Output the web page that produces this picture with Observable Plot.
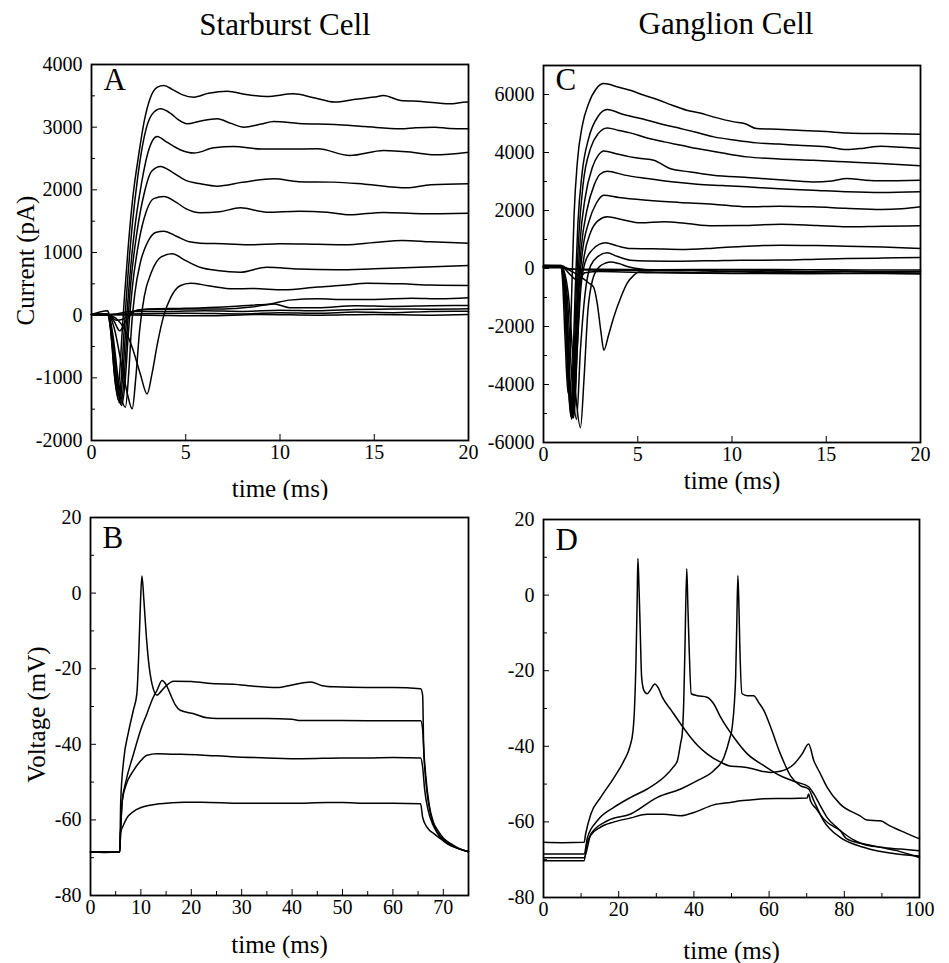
<!DOCTYPE html>
<html><head><meta charset="utf-8">
<script src="https://cdn.jsdelivr.net/npm/d3@7"></script>
<script src="https://cdn.jsdelivr.net/npm/@observablehq/plot@0.6"></script>
<style>
body{margin:0;background:#fff;}
#wrap{position:relative;width:949px;height:963px;background:#fff;font-family:"Liberation Serif","Times New Roman",serif;overflow:hidden;}
.title{position:absolute;font-size:31px;color:#000;white-space:nowrap;transform:translateX(-50%);line-height:1;}
.panel{position:absolute;}
</style></head><body>
<div id="wrap">
<div class="title" style="left:285px;top:9px">Starburst Cell</div>
<div class="title" style="left:726px;top:8px">Ganglion Cell</div>
<div class="panel" id="pA" style="left:0px;top:50px"></div>
<div class="panel" id="pC" style="left:480px;top:50px"></div>
<div class="panel" id="pB" style="left:0px;top:500px"></div>
<div class="panel" id="pD" style="left:480px;top:500px"></div>
</div>
<script>
// ---------- Panel A: starburst cell, voltage-clamp currents (t ms, pA) ----------
const A1 = [[0,10],[0.8,10],[0.9,0],[1.1,-500],[1.25,-1050],[1.38,-1250],[1.5,-900],[1.62,-300],[1.75,300],[1.95,1100],[2.2,1900],[2.5,2550],[2.8,3100],[3.1,3450],[3.5,3640],[3.84,3665],[4.3,3600],[4.8,3520],[5.43,3479],[6.2,3540],[7.2,3575],[8.2,3520],[9.3,3490],[10.7,3532],[11.8,3470],[12.9,3400],[14,3445],[15,3480],[15.5,3505],[16.4,3426],[17.5,3410],[19,3373],[19.9,3400],[20,3400]];
const A2 = [[0,10],[0.85,10],[1.0,-200],[1.2,-900],[1.42,-1350],[1.58,-1000],[1.72,-300],[1.9,500],[2.15,1400],[2.45,2200],[2.8,2850],[3.2,3200],[3.66,3293],[4.2,3220],[4.6,3120],[5.07,3054],[5.8,3100],[6.67,3133],[7.4,3060],[8.08,3000],[9.0,3050],[9.67,3091],[11,3060],[12.9,3043],[14.5,3010],[16.4,2974],[17.2,2990],[18.2,3000],[19,2980],[20,2974]];
const A3 = [[0,10],[0.85,10],[1.05,-300],[1.25,-950],[1.48,-1400],[1.65,-1000],[1.8,-300],[2.0,500],[2.3,1400],[2.65,2100],[3.0,2600],[3.48,2852],[4.0,2760],[4.7,2640],[5.43,2586],[6.5,2670],[7.55,2692],[9,2650],[10.5,2650],[12,2655],[13.7,2548],[15.5,2628],[17,2600],[18.2,2559],[20,2601]];
const A4 = [[0,10],[0.9,10],[1.1,-350],[1.35,-1050],[1.55,-1420],[1.72,-1050],[1.88,-300],[2.08,500],[2.4,1300],[2.8,1950],[3.2,2300],[3.66,2373],[4.3,2280],[5.0,2150],[5.78,2096],[6.67,2059],[8.0,2120],[9.67,2176],[11,2130],[12.86,2123],[14.5,2090],[16.7,2032],[18,2080],[20,2096]];
const A5 = [[0,10],[0.9,10],[1.12,-400],[1.38,-1100],[1.6,-1440],[1.8,-1000],[1.95,-300],[2.15,400],[2.5,1150],[2.9,1650],[3.3,1860],[3.84,1894],[4.5,1800],[5.0,1700],[5.78,1633],[6.8,1650],[7.9,1713],[9.3,1644],[11,1660],[12.5,1644],[13.7,1601],[15.5,1640],[17.5,1620],[20,1628]];
const A6 = [[0,10],[0.9,10],[1.15,-350],[1.45,-1100],[1.8,-1468],[1.98,-900],[2.12,-200],[2.3,350],[2.6,850],[3.0,1180],[3.4,1320],[3.84,1341],[4.5,1260],[5.2,1170],[5.78,1149],[7,1140],[8.5,1123],[10,1140],[12,1130],[13.5,1123],[15,1160],[16.5,1192],[18,1170],[20,1149]];
const A7 = [[0,10],[0.9,10],[1.2,-200],[1.6,-800],[1.9,-1250],[2.16,-1495],[2.35,-1000],[2.55,-250],[2.8,300],[3.2,700],[3.7,930],[4.28,979],[5.0,870],[5.8,760],[6.67,713],[7.9,686],[9.3,766],[11,735],[13,723],[15,740],[17,760],[20,793]];
const A8 = [[0,10],[0.85,70],[0.95,10],[1.3,-50],[1.8,-250],[2.2,-550],[2.6,-950],[2.95,-1256],[3.2,-950],[3.5,-450],[3.84,0],[4.2,280],[4.7,470],[5.25,511],[6.2,470],[7.55,420],[8.5,425],[10.2,404],[12,450],[13.5,480],[14.6,511],[16.5,500],[18,480],[20,473]];
const A9 = [[0,10],[0.9,10],[1.2,-100],[1.5,-250],[1.8,-100],[2.4,80],[3,100],[5,110],[7,130],[8.5,160],[9.5,180],[10.5,240],[12,260],[13.5,250],[15,250],[17,270],[18.5,260],[20,277]];
const A10 = [[0,10],[0.9,10],[1.3,-80],[1.7,-60],[2.2,60],[3,90],[5,100],[7,100],[8.5,130],[9.7,180],[10.5,120],[12,120],[14,150],[16,140],[18,150],[20,154]];
const A11 = [[0,10],[0.9,10],[1.5,30],[2,60],[4,60],[6,70],[8,60],[10,80],[12,70],[14,90],[16,100],[18,95],[20,101]];
const A12 = [[0,10],[0.9,10],[2,20],[5,30],[8,20],[10,40],[12,30],[14,50],[16,40],[18,60],[20,64]];
const A13 = [[0,10],[1,5],[3,0],[6,-10],[9,10],[12,0],[15,10],[18,0],[20,10]];

// ---------- Panel C: ganglion cell, voltage-clamp currents (t ms, pA) ----------
const C1 = [[0,80],[0.9,80],[1.0,-300],[1.15,-2500],[1.3,-4300],[1.42,-2500],[1.52,-300],[1.62,1800],[1.8,3700],[2.05,4900],[2.4,5700],[2.8,6200],[3.2,6377],[3.9,6270],[4.6,6147],[5.3,5980],[6.03,5825],[6.8,5640],[7.6,5458],[8.3,5360],[9.0,5228],[10.1,5056],[10.7,4990],[11.3,4826],[12.4,4800],[13.5,4768],[15,4720],[16.1,4676],[17.9,4653],[20,4630]];
const C2 = [[0,70],[0.95,70],[1.1,-800],[1.3,-3800],[1.45,-5100],[1.55,-3500],[1.68,-800],[1.82,1500],[2.05,3300],[2.4,4500],[2.9,5250],[3.38,5481],[4.2,5320],[5.5,5113],[6.4,4960],[7.27,4826],[8.2,4680],[9.04,4539],[10.2,4420],[11.3,4332],[12.5,4290],[13.5,4251],[15,4200],[16.1,4102],[17,4150],[17.9,4217],[19,4180],[20,4136]];
const C3 = [[0,60],[0.95,60],[1.12,-900],[1.32,-4000],[1.5,-5200],[1.6,-3600],[1.73,-900],[1.88,1200],[2.1,2900],[2.5,4150],[2.9,4650],[3.38,4849],[4.0,4760],[4.6,4676],[5.5,4500],[6.4,4366],[7.3,4250],[8.15,4136],[9.5,3980],[10.8,3849],[12.5,3780],[14.3,3734],[16,3680],[17.9,3619],[20,3539]];
const C4 = [[0,50],[0.95,50],[1.15,-1000],[1.38,-4300],[1.55,-5150],[1.66,-3500],[1.78,-1000],[1.95,1000],[2.2,2400],[2.6,3500],[2.9,3900],[3.2,4056],[3.9,3950],[4.6,3849],[5.2,3790],[5.85,3734],[6.7,3447],[7.8,3330],[9.0,3217],[10.8,3137],[12.5,3060],[14.3,2987],[15.3,3020],[16.1,3102],[17,3050],[17.9,3022],[20,3045]];
const C5 = [[0,60],[0.95,60],[1.15,-900],[1.35,-4000],[1.5,-5050],[1.65,-3500],[1.8,-1200],[2.0,700],[2.3,2000],[2.7,2900],[3.0,3250],[3.38,3355],[4.3,3220],[5.5,3102],[6.8,2990],[8.15,2907],[9.5,2860],[10.8,2815],[12.5,2750],[14.3,2700],[16,2650],[17.9,2620],[20,2643]];
const C6 = [[0,50],[0.95,50],[1.18,-1100],[1.4,-4300],[1.56,-5100],[1.7,-3300],[1.85,-1000],[2.05,500],[2.4,1600],[2.8,2250],[3.2,2528],[4.0,2450],[5.5,2355],[7.2,2280],[9.0,2218],[10.8,2126],[12.5,2150],[14.3,2126],[16,2080],[17.9,2034],[19,2060],[20,2126]];
const C7 = [[0,40],[0.95,40],[1.2,-1200],[1.42,-4400],[1.6,-5150],[1.75,-3300],[1.92,-900],[2.15,400],[2.5,1250],[2.9,1650],[3.38,1781],[4.2,1680],[5.15,1574],[6.4,1609],[7.5,1560],[9.0,1471],[10.5,1480],[12.6,1528],[14.5,1480],[16.1,1436],[18,1460],[20,1471]];
const C8 = [[0,50],[0.95,50],[1.22,-1100],[1.45,-4300],[1.62,-5050],[1.79,-2800],[1.98,-700],[2.2,200],[2.6,650],[2.95,830],[3.29,885],[3.9,780],[4.6,689],[5.8,680],[7.27,655],[9,700],[10.5,760],[12.6,804],[14.5,790],[16.1,770],[18,740],[20,689]];
const C9 = [[0,60],[0.95,60],[1.25,-900],[1.55,-4200],[1.75,-5200],[1.96,-2800],[2.2,-900],[2.5,100],[2.9,420],[3.38,540],[3.9,420],[4.6,287],[5.5,260],[7.27,253],[9,270],[10.5,287],[12.6,290],[14.5,320],[16.1,345],[18,360],[20,379]];
const C10 = [[0,70],[0.95,70],[1.3,-800],[1.7,-4300],[1.96,-5490],[2.15,-3800],[2.35,-1500],[2.6,-400],[2.95,50],[3.3,190],[3.55,228],[4.0,170],[4.5,60],[5.15,-20],[6,-60],[8,-80],[10,-100],[12,-90],[14,-110],[16,-100],[18,-120],[20,-110]];
const C11 = [[0,60],[0.9,55],[1.5,-100],[2.0,-300],[2.4,-500],[2.65,-634],[2.85,-1200],[3.05,-2200],[3.2,-2817],[3.45,-2300],[3.73,-1669],[4.1,-1000],[4.44,-507],[4.8,-230],[5.04,-117],[6,-130],[8,-150],[10,-160],[12,-140],[14,-150],[16,-160],[18,-150],[20,-160]];
const C12 = [[0,100],[0.95,100],[1.3,0],[2,-40],[4,-60],[6,-70],[8,-60],[10,-90],[12,-80],[14,-100],[16,-90],[18,-110],[20,-100]];
const C13 = [[0,30],[1,30],[1.5,-30],[3,-30],[6,-40],[10,-35],[14,-40],[17,-50],[20,-50]];
const C14 = [[0,110],[0.9,100],[1.4,-200],[1.8,-400],[2.2,-150],[3,-100],[6,-150],[10,-170],[14,-180],[18,-170],[20,-190]];

// ---------- Panel B: starburst cell, current-clamp voltages (t ms, mV) ----------
const B1 = [[0,-68.4],[3,-68.6],[5.8,-68.4],[6.0,-55],[6.6,-44],[7.5,-37],[8.5,-31],[9.2,-26.6],[9.6,-15],[9.9,-3],[10.2,4.5],[10.6,-2],[11.0,-10],[11.5,-17.8],[12.2,-24],[13.2,-27],[14,-26],[15,-24.5],[16.5,-23.3],[20,-23.4],[25,-24],[28.4,-24.1],[32,-24.6],[37,-25],[40,-24.3],[43.7,-23.5],[46,-24.5],[48.3,-24.8],[54.9,-25],[60,-25],[65.5,-25.3],[65.9,-27],[66.1,-40],[66.5,-48],[67.2,-56],[68,-60.5],[68.9,-62.8],[70,-64.8],[71.5,-66.3],[73,-67.5],[75,-68.4]];
const B2 = [[0,-68.5],[5.8,-68.5],[6.0,-62],[6.3,-55],[7,-50],[8.55,-42.5],[10,-36],[11.2,-31.9],[12.3,-28],[13.2,-25.7],[14.2,-23.1],[15,-24.2],[15.8,-26.6],[16.8,-29.5],[17.8,-31],[20.5,-31.9],[23.1,-33],[25.1,-33.2],[30,-33.2],[35,-33.2],[40,-33.4],[41.7,-33.7],[50,-33.7],[60,-33.8],[65.5,-33.8],[65.9,-36],[66.2,-44],[66.7,-52],[67.4,-58],[68.3,-62],[69.5,-64.8],[71,-66.5],[73,-67.6],[75,-68.4]];
const B3 = [[0,-68.5],[5.8,-68.5],[6.0,-62],[6.3,-55],[7,-51],[8.55,-46.9],[10,-44.3],[11.2,-42.9],[13.2,-42.5],[16,-42.6],[21.8,-42.8],[28,-43.3],[35,-43.6],[42,-43.8],[50,-43.6],[55,-43.6],[60,-43.5],[65.5,-43.6],[65.9,-46],[66.3,-52],[67,-57.5],[68,-61.5],[69.5,-64.5],[71,-66.2],[73,-67.6],[75,-68.4]];
const B4 = [[0,-68.5],[5.8,-68.5],[5.95,-63.5],[6.5,-61.5],[7.2,-59.5],[8.5,-57.8],[9.9,-56.8],[11.5,-56.2],[13.9,-55.7],[18.5,-55.3],[22,-55.3],[30,-55.6],[40,-55.6],[47,-55.4],[50,-55.4],[55,-55.6],[60,-55.6],[65.5,-55.7],[65.9,-59.3],[66.8,-62],[68.2,-63.7],[70,-65.5],[71.5,-66.6],[73,-67.6],[75,-68.4]];

// ---------- Panel D: ganglion cell, current-clamp voltages (t ms, mV) ----------
const D1 = [[0,-65.4],[5,-65.5],[10.8,-65.4],[11.2,-63.2],[12.6,-57.9],[15.2,-53.5],[18.8,-48.2],[21.4,-43.8],[23.0,-40],[23.8,-36],[24.2,-30],[24.6,-17.3],[24.9,-2],[25.1,9.7],[25.4,2],[25.7,-8.4],[26.1,-21.7],[26.7,-25.2],[27.6,-26.1],[28.5,-25],[29.6,-23.5],[30.5,-24.5],[31.6,-27],[34,-30.5],[36.5,-34.1],[39.1,-37.6],[41,-39.8],[43.5,-42],[47.1,-44.2],[50,-45.3],[52.4,-45.4],[55.9,-46],[58,-46.6],[60.4,-46.9],[63,-46.6],[66.5,-44.8],[68.8,-42],[70.5,-39.4],[71.9,-43.8],[73.5,-47],[75.4,-50.8],[78.9,-55.3],[84.2,-58.4],[86,-59.5],[89.6,-59.7],[92,-61],[94.9,-62.3],[100,-64.5]];
const D2 = [[0,-68.5],[10.8,-68.5],[11.7,-64.1],[14.3,-59.7],[18.8,-56.1],[23.2,-53.5],[27.6,-51.3],[32,-48.2],[34.5,-45.5],[35.6,-43.8],[36.5,-39],[36.9,-36.7],[37.3,-28],[37.6,-15],[38.1,7],[38.4,-3],[38.7,-12.9],[39.3,-26.1],[40.9,-26.6],[43.5,-27],[45.3,-28.8],[47.1,-32.3],[50.6,-37.6],[54.2,-42],[58.6,-45.1],[63,-47.8],[67.4,-49.5],[70.5,-50.7],[71.9,-52.6],[73.5,-55.5],[75.4,-58.8],[78.9,-62.3],[80.7,-64.5],[85,-65.8],[89.6,-66.7],[95,-67.2],[100,-67.6]];
const D3 = [[0,-69.5],[10.8,-69.5],[12.6,-63.2],[17,-59.7],[23.2,-57.9],[30.3,-53.5],[36.5,-51.3],[40.9,-49.1],[45.3,-46.4],[48,-42.9],[49.5,-38],[50.2,-34.9],[50.8,-28],[51.1,-21.7],[51.4,-8],[51.7,5.2],[52.0,-4],[52.2,-12.9],[52.8,-26.1],[54.2,-26.6],[55.9,-26.6],[57.3,-28.5],[58.6,-30.5],[60.4,-34.9],[63,-42],[65.7,-47.8],[68.3,-50.4],[70.5,-51.3],[71.9,-54.4],[74.5,-59.7],[78.9,-64.1],[85.1,-66.7],[94,-68.5],[100,-69]];
const D4 = [[0,-70.3],[10.8,-70.3],[11.5,-66],[12.6,-63.5],[15,-61.5],[18.8,-60],[23,-59],[27.6,-58],[32,-58],[36.5,-58.4],[40,-57.5],[45.3,-55.5],[50,-54.8],[52.4,-54.4],[55,-54.2],[58.6,-53.9],[62,-53.8],[66,-53.8],[70.1,-53.7],[70.5,-52.6],[71,-54.4],[72.5,-56.5],[74.5,-59.2],[78.9,-62.3],[82,-64.5],[85.1,-65.9],[90,-66.8],[94,-67.6],[97,-68.5],[100,-69.4]];

// ---------- Tick values ----------
const aXTicks = [0, 5, 10, 15, 20];
const aYTicks = [-2000, -1000, 0, 1000, 2000, 3000, 4000];
const aYMinor = [-1500, -500, 500, 1500, 2500, 3500];
const cXTicks = [0, 5, 10, 15, 20];
const cYTicks = [-6000, -4000, -2000, 0, 2000, 4000, 6000];
const cYMinor = [-5000, -3000, -1000, 1000, 3000, 5000];
const bXTicks = [0, 10, 20, 30, 40, 50, 60, 70];
const bXMinor = [5, 15, 25, 35, 45, 55, 65];
const vYTicks = [-80, -60, -40, -20, 0, 20];
const vYMinor = [-70, -50, -30, -10, 10];
const dXTicks = [0, 20, 40, 60, 80, 100];
const dXMinor = [10, 30, 50, 70, 90];

const FONT = '"Liberation Serif", "Times New Roman", serif';

function panel(o) {
  const data = o.traces.flatMap((tr, i) => tr.map(([t, v]) => ({t, v, id: i})));
  const marks = [
    Plot.line(data, {x: "t", y: "v", z: "id", stroke: "black", strokeWidth: 1.5, curve: "monotone-x"}),
    Plot.frame({stroke: "black", strokeWidth: 1.8}),
    Plot.axisX({ticks: o.xTicks, tickSize: -6, tickFormat: () => "", label: null}),
    Plot.axisX({ticks: o.xTicks, tickSize: 0, tickPadding: 4, tickFormat: d => String(d), label: null, fontSize: 20}),
    Plot.axisY({ticks: o.yTicks, tickSize: -6, tickFormat: () => "", label: null}),
    Plot.axisY({ticks: o.yTicks, tickSize: 0, tickPadding: 9, tickFormat: d => String(d), label: null, fontSize: 20}),
    Plot.text([o.letter], {text: d => d, frameAnchor: "top-left", dx: 12, dy: o.letterDy, textAnchor: "start", lineAnchor: "middle", fontSize: 31}),
    Plot.text(["time (ms)"], {text: d => d, frameAnchor: "bottom", dy: o.xLabelDy, textAnchor: "middle", lineAnchor: "middle", fontSize: 25})
  ];
  if (o.xMinor) marks.push(Plot.axisX({ticks: o.xMinor, tickSize: -4, tickFormat: () => "", label: null}));
  if (o.yMinor) marks.push(Plot.axisY({ticks: o.yMinor, tickSize: -4, tickFormat: () => "", label: null}));
  if (o.yLabel) marks.push(Plot.text([o.yLabel], {text: d => d, frameAnchor: "left", rotate: -90, dx: o.yLabelDx, dy: 8, textAnchor: "middle", lineAnchor: "middle", fontSize: 25}));
  return Plot.plot({
    width: o.width, height: o.height,
    marginTop: o.mt, marginRight: o.mr, marginBottom: o.mb, marginLeft: o.ml,
    style: {fontFamily: FONT, fontSize: "20px", color: "black", background: "white", overflow: "visible"},
    x: {domain: o.xDomain},
    y: {domain: o.yDomain},
    marks
  });
}

document.getElementById("pA").append(panel({
  traces: [A1,A2,A3,A4,A5,A6,A7,A8,A9,A10,A11,A12,A13],
  xDomain: [0, 20], yDomain: [-2000, 4000],
  xTicks: aXTicks, yTicks: aYTicks, yMinor: aYMinor,
  width: 480, height: 460, mt: 14, mr: 12, mb: 70, ml: 91,
  letter: "A", letterDy: 16, yLabel: "Current (pA)", yLabelDx: -66, xLabelDy: 48
}));
document.getElementById("pC").append(panel({
  traces: [C1,C2,C3,C4,C5,C6,C7,C8,C9,C10,C11,C12,C13,C14],
  xDomain: [0, 20], yDomain: [-6000, 7000],
  xTicks: cXTicks, yTicks: cYTicks, yMinor: cYMinor,
  width: 469, height: 460, mt: 15, mr: 29, mb: 68, ml: 63,
  letter: "C", letterDy: 15, xLabelDy: 38
}));
document.getElementById("pB").append(panel({
  traces: [B1,B2,B3,B4],
  xDomain: [0, 75], yDomain: [-80, 20],
  xTicks: bXTicks, xMinor: bXMinor, yTicks: vYTicks, yMinor: vYMinor,
  width: 480, height: 463, mt: 17, mr: 12, mb: 68, ml: 90,
  letter: "B", letterDy: 21, yLabel: "Voltage (mV)", yLabelDx: -54, xLabelDy: 49
}));
document.getElementById("pD").append(panel({
  traces: [D1,D2,D3,D4],
  xDomain: [0, 100], yDomain: [-80, 20],
  xTicks: dXTicks, xMinor: dXMinor, yTicks: vYTicks, yMinor: vYMinor,
  width: 469, height: 463, mt: 19, mr: 30, mb: 66, ml: 63,
  letter: "D", letterDy: 21, xLabelDy: 53
}));
</script>
</body></html>
